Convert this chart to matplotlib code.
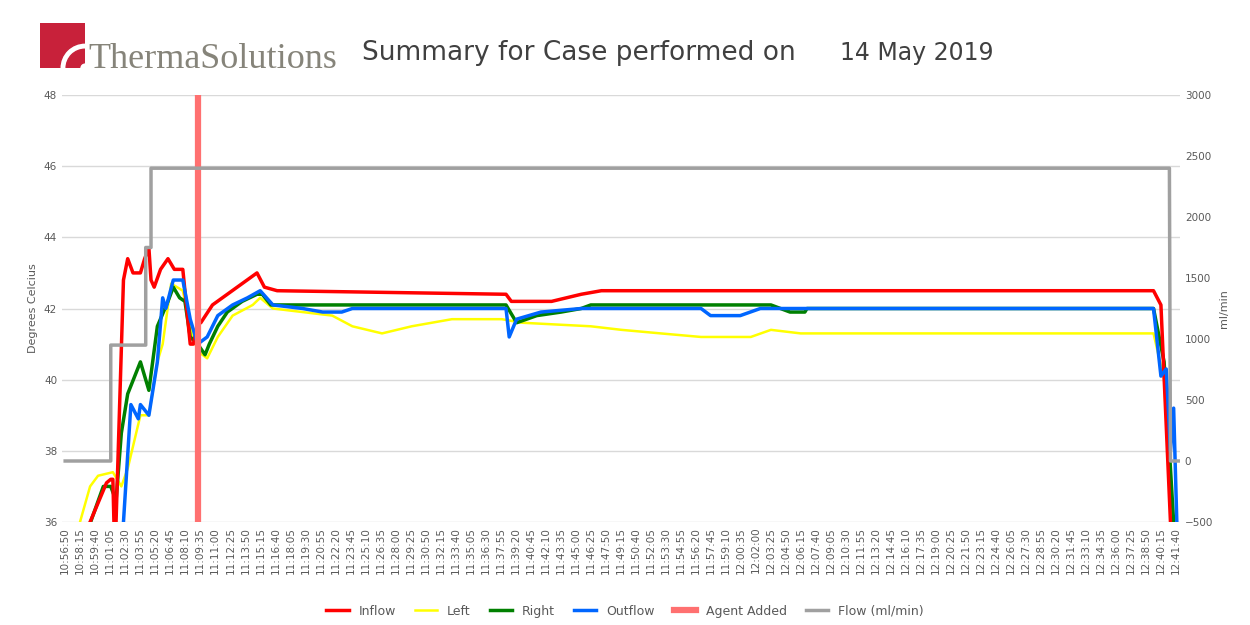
import numpy as np
import matplotlib.pyplot as plt
from matplotlib.patches import Wedge
from datetime import datetime, timedelta

# elapsed minutes since 10:56:50 and readings
inflow_t = [2.35, 3.9, 4.3, 4.5, 4.6, 4.8, 5.5, 5.9, 6.4, 7.1, 7.5, 7.9, 8.1, 8.4, 9.0, 9.7, 10.3, 11.1, 11.8, 12.1,
            12.5, 12.8, 13.9, 15.3, 16.7, 18.1, 18.8, 20.0, 41.6, 42.1, 45.9, 48.7, 50.6, 102.7, 103.4, 104.3]
inflow = [36.0, 37.1, 37.2, 37.2, 36.0, 36.0, 42.8, 43.4, 43.0, 43.0, 43.4, 43.7, 42.8, 42.6, 43.1, 43.4, 43.1, 43.1,
          41.0, 41.0, 41.6, 41.6, 42.1, 42.4, 42.7, 43.0, 42.6, 42.5, 42.4, 42.2, 42.2, 42.4, 42.5, 42.5, 42.1, 36.0]

left_t = [1.4, 2.35, 3.1, 4.5, 5.3, 5.9, 7.1, 7.9, 8.7, 9.2, 10.0, 11.1, 11.8, 12.5, 13.4, 14.4, 15.8, 17.7, 18.4,
          19.6, 22.4, 25.2, 27.1, 29.9, 32.7, 36.5, 41.2, 43.1, 49.6, 52.5, 56.2, 60.0, 64.7, 66.6, 69.4, 102.7,
          103.7, 104.4]
left = [36.0, 37.0, 37.3, 37.4, 37.0, 37.5, 39.0, 39.0, 40.5, 41.0, 42.7, 42.5, 41.5, 40.8, 40.6, 41.2, 41.8, 42.1,
        42.3, 42.0, 41.9, 41.8, 41.5, 41.3, 41.5, 41.7, 41.7, 41.6, 41.5, 41.4, 41.3, 41.2, 41.2, 41.4, 41.3, 41.3,
        40.0, 36.0]

right_t = [2.4, 3.6, 4.3, 4.8, 5.3, 5.9, 7.1, 7.9, 8.7, 9.7, 10.2, 10.8, 11.3, 11.8, 12.5, 13.2, 13.6, 14.4, 15.3,
           16.7, 18.1, 18.6, 19.4, 41.6, 42.6, 44.5, 46.8, 48.7, 49.6, 66.6, 68.4, 69.8, 70.0, 102.7, 103.7, 104.6]
right = [36.0, 37.0, 37.0, 36.6, 38.5, 39.6, 40.5, 39.7, 41.5, 42.2, 42.6, 42.3, 42.2, 41.2, 41.0, 40.7, 41.0, 41.5,
         41.9, 42.2, 42.4, 42.4, 42.1, 42.1, 41.6, 41.8, 41.9, 42.0, 42.1, 42.1, 41.9, 41.9, 42.0, 42.0, 40.5, 36.0]

outflow_t = [5.5, 6.2, 6.9, 7.1, 7.9, 8.7, 9.2, 9.5, 10.2, 11.1, 11.8, 12.5, 13.4, 14.4, 15.8, 17.2, 18.4, 19.6,
             22.4, 24.3, 26.1, 27.1, 41.6, 41.9, 42.6, 44.9, 48.7, 60.0, 60.9, 63.7, 65.6, 102.7, 103.4, 103.9,
             104.3, 104.6, 104.9]
outflow = [36.0, 39.3, 38.9, 39.3, 39.0, 40.5, 42.3, 42.0, 42.8, 42.8, 41.7, 41.0, 41.2, 41.8, 42.1, 42.3, 42.5,
           42.1, 42.0, 41.9, 41.9, 42.0, 42.0, 41.2, 41.7, 41.9, 42.0, 42.0, 41.8, 41.8, 42.0, 42.0, 40.1, 40.3,
           38.0, 39.2, 36.0]

flow_t = [0.0, 4.3, 4.3, 7.6, 7.6, 8.1, 8.1, 104.2, 104.3, 105.2]
flow = [0, 0, 950, 950, 1750, 1750, 2400, 2400, 0, 0]

agent_t = 12.5

fig = plt.figure(figsize=(12.5, 6.25), dpi=100)
ax = fig.add_axes([0.0496, 0.1648, 0.8944, 0.6832])
ax2 = ax.twinx()

ax.plot(inflow_t, inflow, color='#ff0000', lw=2.5, label='Inflow', zorder=5)
ax.plot(left_t, left, color='#ffff00', lw=1.8, label='Left', zorder=3)
ax.plot(right_t, right, color='#008000', lw=2.5, label='Right', zorder=4)
ax.plot(outflow_t, outflow, color='#0066ff', lw=2.5, label='Outflow', zorder=6)
ax.axvline(agent_t, color='#ff7070', lw=4.5, label='Agent Added', zorder=7)
ax2.plot(flow_t, flow, color='#a0a0a0', lw=2.5, label='Flow (ml/min)')

ax.set_ylim(36, 48)
ax.set_yticks(range(36, 49, 2))
ax2.set_ylim(-500, 3000)
ax2.set_yticks(range(-500, 3001, 500))
ax.set_xlim(-0.3, 105.2)

start = datetime(2019, 5, 14, 10, 56, 50)
ticks = np.arange(75) * 85 / 60
ax.set_xticks(ticks)
ax.set_xticklabels([(start + timedelta(seconds=85 * i)).strftime('%H:%M:%S') for i in range(75)],
                   rotation=90, fontsize=7.5, color='#595959')
ax.grid(axis='y', color='#d9d9d9', lw=1)
ax.set_axisbelow(True)
for a in (ax, ax2):
    for s in a.spines.values():
        s.set_visible(False)
    a.tick_params(length=0, labelsize=7.5, labelcolor='#595959')
ax.set_ylabel('Degrees Celcius', fontsize=8, color='#595959')
ax2.set_ylabel('ml/min', fontsize=8, color='#595959')

h1, l1 = ax.get_legend_handles_labels()
h2, l2 = ax2.get_legend_handles_labels()
fig.legend(h1 + h2, l1 + l2, loc='center', bbox_to_anchor=(0.5, 0.022), ncol=6, frameon=False,
           fontsize=9, labelcolor='#595959', handlelength=1.8, columnspacing=1.5)

fig.text(0.29, 0.915, 'Summary for Case performed on', fontsize=19, color='#404040', va='center')
fig.text(0.672, 0.915, '14 May 2019', fontsize=17, color='#404040', va='center')
fig.text(0.0704, 0.891, 'ThermaSolutions', fontsize=26, family='Liberation Serif', color='#86847a',
         va='baseline')

# logo mark
lx = fig.add_axes([0.032, 0.891, 0.036, 0.072])
lx.set_xlim(0, 1)
lx.set_ylim(0, 1)
lx.axis('off')
lx.add_patch(Wedge((1, 0), 1.5, 90, 180, width=0.94, color='#c8213a'))
lx.add_patch(Wedge((1, 0), 0.42, 90, 180, width=0.3, color='#c8213a'))

fig.savefig('out.png')
